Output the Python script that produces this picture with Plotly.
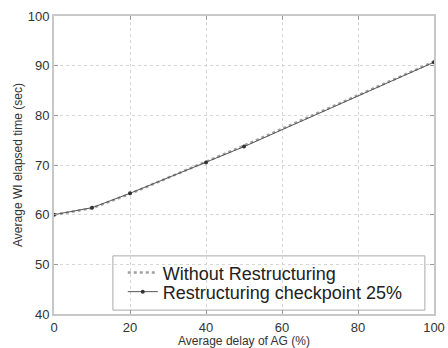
import plotly.graph_objects as go

delay = [0, 10, 20, 40, 50, 100]
without_restr = [60.0, 61.3, 64.2, 70.6, 73.9, 90.8]
restr_25 = [60.0, 61.4, 64.3, 70.5, 73.7, 90.7]

x_ticks = [0, 20, 40, 60, 80, 100]
y_ticks = [40, 50, 60, 70, 80, 90, 100]

fig = go.Figure()
fig.add_trace(go.Scatter(
    x=delay, y=without_restr, mode="lines", name="Without Restructuring",
    line=dict(color="#a0a0a0", width=2.5, dash="dot"), legend="legend",
))
fig.add_trace(go.Scatter(
    x=delay, y=restr_25, mode="lines+markers", name="Restructuring checkpoint 25%",
    line=dict(color="#555555", width=1),
    marker=dict(symbol="circle", size=4, color="#333333"), legend="legend2",
))

axis_common = dict(
    showline=True, linecolor="#c8c8c8", linewidth=2, mirror="ticks",
    ticks="inside", ticklen=4, tickcolor="#999999",
    showgrid=True, gridcolor="#d6d6d6", griddash="dot", gridwidth=1,
    zeroline=False, tickfont=dict(size=13, color="#333333", family="Liberation Sans"),
)

leg_common = dict(xanchor="left", yanchor="middle", bgcolor="rgba(0,0,0,0)",
                  borderwidth=0, font=dict(size=18, color="#222222"), itemwidth=30)

fig.update_layout(
    width=448, height=348,
    margin=dict(l=54, r=14, t=16, b=34, autoexpand=False),
    paper_bgcolor="white", plot_bgcolor="white",
    font=dict(family="Liberation Sans", color="#333333"),
    xaxis=dict(range=[0, 100], tickvals=x_ticks,
               title=dict(text="Average delay of AG (%)", font=dict(size=12), standoff=0),
               **axis_common),
    yaxis=dict(range=[40, 100], tickvals=y_ticks,
               title=dict(text="Average WI elapsed time (sec)", font=dict(size=12), standoff=2),
               **axis_common),
    legend=dict(x=0.181, y=0.138, **leg_common),
    legend2=dict(x=0.181, y=0.074, **leg_common),
    shapes=[dict(type="rect", xref="paper", yref="paper", x0=0.155, x1=0.976,
                 y0=0.013, y1=0.195, line=dict(color="#aaaaaa", width=1),
                 fillcolor="white", layer="below")],
    showlegend=True,
)

fig.write_html(
    "out.html",
    config={"displayModeBar": False},
    post_script="document.body.style.margin='0';document.body.style.overflow='hidden';",
)
